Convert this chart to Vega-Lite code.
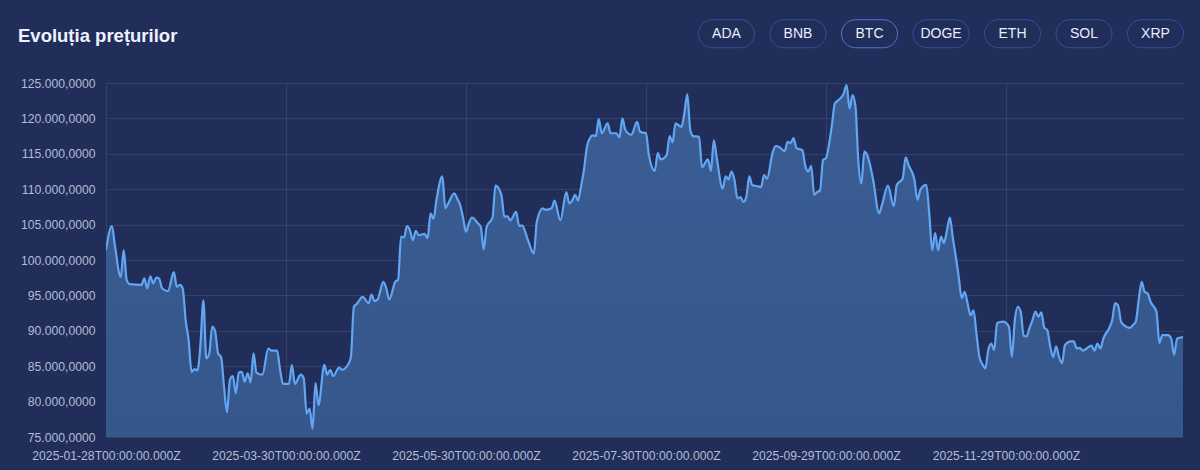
{
  "$schema": "https://vega.github.io/schema/vega-lite/v6.json",
  "width": 1077,
  "height": 354,
  "padding": {"left": 18, "top": 5, "right": 17, "bottom": 8},
  "background": "#212e59",
  "config": {
    "locale": {"number": {"decimal": ",", "thousands": ".", "grouping": [3], "currency": ["", ""]}},
    "view": {"stroke": null},
    "font": "Liberation Sans"
  },
  "datasets": {
    "prices": [
      {"date":"2025-01-28","price":101400},{"date":"2025-01-30","price":104800},{"date":"2025-01-31","price":102100},
      {"date":"2025-02-02","price":97600},{"date":"2025-02-03","price":101400},{"date":"2025-02-04","price":97200},
      {"date":"2025-02-05","price":96600},{"date":"2025-02-09","price":96500},{"date":"2025-02-10","price":97400},
      {"date":"2025-02-11","price":96000},{"date":"2025-02-12","price":97700},{"date":"2025-02-13","price":96700},
      {"date":"2025-02-14","price":97500},{"date":"2025-02-15","price":97400},{"date":"2025-02-16","price":96000},
      {"date":"2025-02-18","price":95600},{"date":"2025-02-20","price":98300},{"date":"2025-02-21","price":96200},
      {"date":"2025-02-22","price":96500},{"date":"2025-02-23","price":96000},{"date":"2025-02-24","price":91500},
      {"date":"2025-02-25","price":88700},{"date":"2025-02-26","price":84200},{"date":"2025-02-27","price":84600},
      {"date":"2025-02-28","price":84400},{"date":"2025-03-01","price":88000},{"date":"2025-03-02","price":94300},
      {"date":"2025-03-03","price":86100},{"date":"2025-03-04","price":86800},{"date":"2025-03-05","price":90600},
      {"date":"2025-03-06","price":89900},{"date":"2025-03-07","price":86800},{"date":"2025-03-08","price":86300},
      {"date":"2025-03-09","price":82100},{"date":"2025-03-10","price":78500},{"date":"2025-03-11","price":83100},
      {"date":"2025-03-12","price":83600},{"date":"2025-03-13","price":81200},{"date":"2025-03-14","price":84100},
      {"date":"2025-03-15","price":84200},{"date":"2025-03-16","price":82800},{"date":"2025-03-17","price":84000},
      {"date":"2025-03-18","price":82700},{"date":"2025-03-19","price":86800},{"date":"2025-03-20","price":84100},
      {"date":"2025-03-22","price":83800},{"date":"2025-03-24","price":87500},{"date":"2025-03-25","price":87200},
      {"date":"2025-03-27","price":87200},{"date":"2025-03-28","price":84500},{"date":"2025-03-29","price":82500},
      {"date":"2025-03-31","price":82500},{"date":"2025-04-01","price":85200},{"date":"2025-04-02","price":82500},
      {"date":"2025-04-04","price":83800},{"date":"2025-04-05","price":83300},{"date":"2025-04-06","price":78300},
      {"date":"2025-04-07","price":79000},{"date":"2025-04-08","price":76200},{"date":"2025-04-09","price":82600},
      {"date":"2025-04-10","price":79500},{"date":"2025-04-12","price":85200},{"date":"2025-04-13","price":83800},
      {"date":"2025-04-14","price":84500},{"date":"2025-04-15","price":83600},{"date":"2025-04-17","price":84800},
      {"date":"2025-04-18","price":84500},{"date":"2025-04-20","price":85200},{"date":"2025-04-21","price":86300},
      {"date":"2025-04-22","price":93400},{"date":"2025-04-23","price":93800},{"date":"2025-04-25","price":94800},
      {"date":"2025-04-27","price":93900},{"date":"2025-04-28","price":95100},{"date":"2025-04-29","price":94200},
      {"date":"2025-04-30","price":94400},{"date":"2025-05-02","price":96900},{"date":"2025-05-03","price":96000},
      {"date":"2025-05-04","price":94400},{"date":"2025-05-06","price":96900},{"date":"2025-05-07","price":97200},
      {"date":"2025-05-08","price":103300},{"date":"2025-05-09","price":103200},{"date":"2025-05-10","price":104800},
      {"date":"2025-05-11","price":104200},{"date":"2025-05-12","price":102800},{"date":"2025-05-13","price":104100},
      {"date":"2025-05-14","price":103500},{"date":"2025-05-16","price":103700},{"date":"2025-05-17","price":103100},
      {"date":"2025-05-18","price":106600},{"date":"2025-05-19","price":105800},{"date":"2025-05-20","price":108500},
      {"date":"2025-05-22","price":111800},{"date":"2025-05-23","price":107300},{"date":"2025-05-24","price":108000},
      {"date":"2025-05-26","price":109400},{"date":"2025-05-27","price":108700},{"date":"2025-05-28","price":107800},
      {"date":"2025-05-29","price":106000},{"date":"2025-05-30","price":104000},{"date":"2025-05-31","price":105200},
      {"date":"2025-06-01","price":106000},{"date":"2025-06-03","price":105200},{"date":"2025-06-04","price":104700},
      {"date":"2025-06-05","price":101500},{"date":"2025-06-06","price":104700},{"date":"2025-06-08","price":106000},
      {"date":"2025-06-09","price":110500},{"date":"2025-06-11","price":109200},{"date":"2025-06-12","price":106100},
      {"date":"2025-06-13","price":106200},{"date":"2025-06-14","price":105600},{"date":"2025-06-16","price":106800},
      {"date":"2025-06-17","price":104800},{"date":"2025-06-18","price":104900},{"date":"2025-06-20","price":102800},
      {"date":"2025-06-22","price":100900},{"date":"2025-06-23","price":105400},{"date":"2025-06-25","price":107300},
      {"date":"2025-06-26","price":107100},{"date":"2025-06-28","price":107300},{"date":"2025-06-29","price":108400},
      {"date":"2025-07-01","price":105600},{"date":"2025-07-03","price":109600},{"date":"2025-07-04","price":108000},
      {"date":"2025-07-05","price":108400},{"date":"2025-07-06","price":109200},{"date":"2025-07-07","price":108400},
      {"date":"2025-07-08","price":110400},{"date":"2025-07-09","price":112800},{"date":"2025-07-10","price":116000},
      {"date":"2025-07-11","price":117200},{"date":"2025-07-12","price":117600},{"date":"2025-07-13","price":117500},
      {"date":"2025-07-14","price":119900},{"date":"2025-07-15","price":117900},{"date":"2025-07-17","price":119300},
      {"date":"2025-07-18","price":117900},{"date":"2025-07-20","price":117900},{"date":"2025-07-21","price":117300},
      {"date":"2025-07-22","price":120000},{"date":"2025-07-23","price":118400},{"date":"2025-07-25","price":117700},
      {"date":"2025-07-27","price":119500},{"date":"2025-07-28","price":118100},{"date":"2025-07-30","price":117900},
      {"date":"2025-07-31","price":114800},{"date":"2025-08-02","price":112600},{"date":"2025-08-03","price":115100},
      {"date":"2025-08-04","price":114200},{"date":"2025-08-06","price":114800},{"date":"2025-08-07","price":117500},
      {"date":"2025-08-08","price":116600},{"date":"2025-08-09","price":119300},{"date":"2025-08-11","price":118800},
      {"date":"2025-08-12","price":120700},{"date":"2025-08-13","price":123400},{"date":"2025-08-14","price":118400},
      {"date":"2025-08-15","price":117500},{"date":"2025-08-17","price":117400},{"date":"2025-08-18","price":113100},
      {"date":"2025-08-20","price":114200},{"date":"2025-08-21","price":112600},{"date":"2025-08-22","price":116900},
      {"date":"2025-08-23","price":114400},{"date":"2025-08-25","price":110100},{"date":"2025-08-26","price":111800},
      {"date":"2025-08-27","price":111400},{"date":"2025-08-28","price":112500},{"date":"2025-08-29","price":111300},
      {"date":"2025-08-30","price":108700},{"date":"2025-08-31","price":108900},{"date":"2025-09-01","price":108200},
      {"date":"2025-09-02","price":108900},{"date":"2025-09-03","price":111800},{"date":"2025-09-04","price":110600},
      {"date":"2025-09-06","price":110400},{"date":"2025-09-07","price":110300},{"date":"2025-09-08","price":112000},
      {"date":"2025-09-09","price":111500},{"date":"2025-09-11","price":115300},{"date":"2025-09-12","price":116100},
      {"date":"2025-09-13","price":116000},{"date":"2025-09-15","price":115400},{"date":"2025-09-16","price":116700},
      {"date":"2025-09-17","price":116500},{"date":"2025-09-18","price":117200},{"date":"2025-09-19","price":115800},
      {"date":"2025-09-21","price":115500},{"date":"2025-09-22","price":113300},{"date":"2025-09-23","price":112500},
      {"date":"2025-09-24","price":113300},{"date":"2025-09-25","price":109200},{"date":"2025-09-26","price":109600},
      {"date":"2025-09-27","price":109800},{"date":"2025-09-28","price":114100},{"date":"2025-09-29","price":114400},
      {"date":"2025-10-01","price":119000},{"date":"2025-10-02","price":122100},{"date":"2025-10-03","price":122500},
      {"date":"2025-10-05","price":123500},{"date":"2025-10-06","price":124700},{"date":"2025-10-07","price":121400},
      {"date":"2025-10-08","price":123300},{"date":"2025-10-09","price":121700},{"date":"2025-10-10","price":113700},
      {"date":"2025-10-11","price":110800},{"date":"2025-10-12","price":115300},{"date":"2025-10-13","price":114800},
      {"date":"2025-10-15","price":111300},{"date":"2025-10-17","price":106600},{"date":"2025-10-18","price":107800},
      {"date":"2025-10-20","price":110500},{"date":"2025-10-22","price":107600},{"date":"2025-10-23","price":110600},
      {"date":"2025-10-25","price":111500},{"date":"2025-10-26","price":114500},{"date":"2025-10-27","price":113400},
      {"date":"2025-10-29","price":111300},{"date":"2025-10-30","price":108500},{"date":"2025-10-31","price":109900},
      {"date":"2025-11-02","price":110600},{"date":"2025-11-03","price":106600},{"date":"2025-11-04","price":101400},
      {"date":"2025-11-05","price":103800},{"date":"2025-11-06","price":101400},{"date":"2025-11-07","price":103300},
      {"date":"2025-11-08","price":102400},{"date":"2025-11-09","price":104200},{"date":"2025-11-10","price":106000},
      {"date":"2025-11-11","price":103100},{"date":"2025-11-12","price":100500},{"date":"2025-11-13","price":97600},
      {"date":"2025-11-14","price":94600},{"date":"2025-11-15","price":95500},{"date":"2025-11-16","price":93900},
      {"date":"2025-11-17","price":92200},{"date":"2025-11-18","price":92900},{"date":"2025-11-19","price":89600},
      {"date":"2025-11-20","price":86300},{"date":"2025-11-21","price":85300},{"date":"2025-11-22","price":84700},
      {"date":"2025-11-23","price":87300},{"date":"2025-11-24","price":88200},{"date":"2025-11-25","price":87300},
      {"date":"2025-11-26","price":91100},{"date":"2025-11-28","price":91300},{"date":"2025-11-30","price":90600},
      {"date":"2025-12-01","price":86300},{"date":"2025-12-02","price":91500},{"date":"2025-12-03","price":93400},
      {"date":"2025-12-04","price":92700},{"date":"2025-12-05","price":89300},{"date":"2025-12-06","price":89200},
      {"date":"2025-12-07","price":90400},{"date":"2025-12-08","price":91500},{"date":"2025-12-09","price":92700},
      {"date":"2025-12-10","price":92000},{"date":"2025-12-11","price":92600},{"date":"2025-12-12","price":90400},
      {"date":"2025-12-13","price":90100},{"date":"2025-12-14","price":87800},{"date":"2025-12-15","price":86300},
      {"date":"2025-12-16","price":87800},{"date":"2025-12-17","price":86300},{"date":"2025-12-18","price":85400},
      {"date":"2025-12-19","price":88000},{"date":"2025-12-21","price":88500},{"date":"2025-12-22","price":88500},
      {"date":"2025-12-23","price":87500},{"date":"2025-12-24","price":87600},{"date":"2025-12-25","price":87200},
      {"date":"2025-12-27","price":87700},{"date":"2025-12-28","price":87900},{"date":"2025-12-29","price":87200},
      {"date":"2025-12-30","price":88200},{"date":"2025-12-31","price":87500},{"date":"2026-01-01","price":88900},
      {"date":"2026-01-03","price":90400},{"date":"2026-01-04","price":91500},{"date":"2026-01-05","price":93900},
      {"date":"2026-01-06","price":93600},{"date":"2026-01-07","price":91300},{"date":"2026-01-08","price":90800},
      {"date":"2026-01-10","price":90400},{"date":"2026-01-11","price":90800},{"date":"2026-01-12","price":91300},
      {"date":"2026-01-13","price":94400},{"date":"2026-01-14","price":96900},{"date":"2026-01-15","price":95500},
      {"date":"2026-01-16","price":95300},{"date":"2026-01-17","price":94100},{"date":"2026-01-19","price":92700},
      {"date":"2026-01-20","price":88300},{"date":"2026-01-21","price":89400},{"date":"2026-01-23","price":89400},
      {"date":"2026-01-24","price":88900},{"date":"2026-01-25","price":86600},{"date":"2026-01-26","price":88900},
      {"date":"2026-01-28","price":89100}
    ],
    "coins": [
      {"sym":"ADA"},{"sym":"BNB"},{"sym":"BTC"},{"sym":"DOGE"},{"sym":"ETH"},{"sym":"SOL"},{"sym":"XRP"}
    ]
  },
  "layer": [
    {
      "data": {"name": "prices"},
      "encoding": {
        "x": {
          "field": "date", "type": "temporal", "scale": {"type": "utc"},
          "axis": {
            "title": null,
            "values": [
              {"year": 2025, "month": 1, "date": 28, "utc": true},
              {"year": 2025, "month": 3, "date": 30, "utc": true},
              {"year": 2025, "month": 5, "date": 30, "utc": true},
              {"year": 2025, "month": 7, "date": 30, "utc": true},
              {"year": 2025, "month": 9, "date": 29, "utc": true},
              {"year": 2025, "month": 11, "date": 29, "utc": true}
            ],
            "labelExpr": "utcFormat(datum.value, '%Y-%m-%dT%H:%M:%S.%LZ')",
            "labelColor": "#b3bcd8", "labelFontSize": 12.2, "labelPadding": 12,
            "labelOverlap": false, "labelFlush": false,
            "domain": false, "ticks": false, "tickSize": 0,
            "grid": true, "gridColor": "#ffffff", "gridOpacity": 0.09
          }
        },
        "y": {
          "field": "price", "type": "quantitative",
          "scale": {"domain": [75000, 125000], "nice": false, "zero": false},
          "axis": {
            "title": null,
            "values": [75000, 80000, 85000, 90000, 95000, 100000, 105000, 110000, 115000, 120000, 125000],
            "format": ",.4f",
            "labelColor": "#b3bcd8", "labelFontSize": 12.2, "labelPadding": 11,
            "domain": false, "ticks": false, "tickSize": 0,
            "grid": true, "gridColor": "#ffffff", "gridOpacity": 0.09
          }
        }
      },
      "layer": [
        {
          "mark": {
            "type": "area", "interpolate": "monotone", "clip": true,
            "fill": {
              "gradient": "linear", "x1": 1, "y1": 1, "x2": 1, "y2": 0,
              "stops": [{"offset": 0, "color": "#2d4d7c"}, {"offset": 1, "color": "#3a5d94"}]
            }
          }
        },
        {
          "mark": {"type": "line", "interpolate": "monotone", "clip": true, "color": "#62a6f3", "strokeWidth": 2.2}
        }
      ]
    },
    {
      "data": {"name": "coins"},
      "mark": {"type": "point", "filled": true, "opacity": 0},
      "encoding": {
        "fill": {
          "field": "sym", "type": "nominal",
          "scale": {
            "domain": ["ADA", "BNB", "BTC", "DOGE", "ETH", "SOL", "XRP"],
            "range": ["#222c5d", "#222c5d", "#34428f", "#222c5d", "#222c5d", "#222c5d", "#222c5d"]
          },
          "legend": {
            "orient": "none", "legendX": -88, "legendY": -78, "direction": "horizontal",
            "title": "Evoluția prețurilor", "titleOrient": "left", "titleFontSize": 18.5,
            "titleFontWeight": "bold", "titleColor": "#eef2ff", "titlePadding": 520,
            "titleAnchor": "middle", "titleBaseline": "top", "titleFont": "Liberation Sans",
            "symbolType": "M-0.5,-0.5L0.5,-0.5A0.5,0.5 0 0 1 0.5,0.5L-0.5,0.5A0.5,0.5 0 0 1 -0.5,-0.5Z",
            "symbolSize": 3136, "symbolStrokeWidth": 1, "symbolOpacity": 1,
            "labelAlign": "center", "labelOffset": -28.5, "labelFontSize": 14,
            "labelColor": "#e8ecff", "labelBaseline": "middle",
            "columnPadding": 10.5, "padding": 0, "rowPadding": 0
          }
        },
        "stroke": {
          "field": "sym", "type": "nominal",
          "scale": {
            "domain": ["ADA", "BNB", "BTC", "DOGE", "ETH", "SOL", "XRP"],
            "range": ["#3a4c98", "#3a4c98", "#5a6fd6", "#3a4c98", "#3a4c98", "#3a4c98", "#3a4c98"]
          }
        }
      }
    }
  ]
}
